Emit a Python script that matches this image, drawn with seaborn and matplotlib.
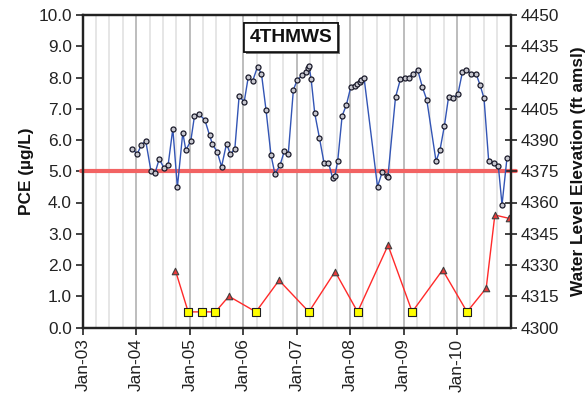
import matplotlib
matplotlib.use("Agg")
import matplotlib.pyplot as plt
import matplotlib.dates as mdates
import matplotlib.patheffects as pe
import numpy as np
import pandas as pd
import seaborn as sns

# Groundwater elevation (ft amsl), right axis
wl_dates = [
    "2003-12-04", "2004-01-07", "2004-02-04", "2004-03-05", "2004-04-09", "2004-05-08",
    "2004-06-05", "2004-07-07", "2004-08-05", "2004-09-06", "2004-10-07", "2004-11-13",
    "2004-12-04", "2005-01-07", "2005-02-01", "2005-03-05", "2005-04-13", "2005-05-15",
    "2005-06-04", "2005-07-06", "2005-08-05", "2005-09-08", "2005-10-05", "2005-11-04",
    "2005-12-03", "2006-01-07", "2006-02-04", "2006-03-05", "2006-04-08", "2006-05-05",
    "2006-06-05", "2006-07-09", "2006-08-05", "2006-09-09", "2006-10-08", "2006-11-04",
    "2006-12-09", "2007-01-05", "2007-02-08", "2007-03-03", "2007-03-17", "2007-03-26",
    "2007-04-09", "2007-05-04", "2007-06-05", "2007-07-07", "2007-08-06", "2007-09-04",
    "2007-09-18", "2007-10-08", "2007-11-07", "2007-12-06", "2008-01-05", "2008-02-01",
    "2008-02-18", "2008-03-05", "2008-03-18", "2008-04-05", "2008-07-06", "2008-08-07",
    "2008-09-06", "2008-09-15", "2008-11-06", "2008-12-10", "2009-01-07", "2009-02-06",
    "2009-03-08", "2009-04-07", "2009-05-09", "2009-06-08", "2009-08-10", "2009-09-06",
    "2009-10-06", "2009-11-04", "2009-12-06", "2010-01-07", "2010-02-06", "2010-03-06",
    "2010-04-05", "2010-05-11", "2010-06-07", "2010-07-04", "2010-08-05", "2010-09-08",
    "2010-10-10", "2010-11-04", "2010-12-08",
]
wl_elev = [
    4385.7, 4383.3, 4387.7, 4389.5, 4375.3, 4374.3,
    4380.9, 4376.6, 4378.1, 4395.4, 4367.3, 4393.5,
    4385.1, 4389.7, 4401.5, 4402.3, 4399.6, 4392.3,
    4387.9, 4384.4, 4377.2, 4388.2, 4383.1, 4385.9,
    4411.0, 4408.4, 4420.4, 4418.2, 4425.2, 4421.7,
    4404.4, 4382.7, 4373.7, 4378.0, 4384.6, 4383.3,
    4414.1, 4418.9, 4421.1, 4422.6, 4424.4, 4425.4,
    4419.4, 4402.8, 4391.0, 4378.8, 4379.1, 4371.6,
    4372.6, 4379.9, 4401.5, 4406.8, 4415.4, 4415.9,
    4416.7, 4418.0, 4418.7, 4419.9, 4367.6, 4374.6,
    4372.6, 4372.2, 4410.5, 4419.3, 4419.6, 4419.9,
    4421.8, 4423.5, 4415.3, 4409.2, 4379.8, 4385.2,
    4396.7, 4410.8, 4410.0, 4412.2, 4422.5, 4423.7,
    4421.8, 4421.7, 4416.4, 4410.0, 4379.8, 4379.1,
    4377.4, 4358.9, 4381.4,
]

# PCE concentration (ug/L), left axis; non-detects reported at 0.5
pce_dates = [
    "2004-09-24", "2004-12-20", "2005-03-25", "2005-06-24", "2005-09-24", "2006-03-28",
    "2006-09-02", "2007-03-25", "2007-09-20", "2008-02-21", "2008-09-16", "2009-02-28",
    "2009-09-24", "2010-03-10", "2010-07-19", "2010-09-16", "2010-12-24",
]
pce_conc = [1.82, 0.5, 0.5, 0.5, 1.0, 0.5, 1.51, 0.5, 1.79, 0.5, 2.63, 0.5,
            1.84, 0.5, 1.26, 3.60, 3.49]
pce_nondetect = [False, True, True, True, False, True, False, True, False, True, False, True,
                 False, True, False, False, False]

mcl = 5.0
year_labels = ["Jan-03", "Jan-04", "Jan-05", "Jan-06", "Jan-07", "Jan-08", "Jan-09", "Jan-10"]

wl = pd.DataFrame({"date": pd.to_datetime(wl_dates), "elev": wl_elev})
pce = pd.DataFrame({"date": pd.to_datetime(pce_dates), "conc": pce_conc, "nd": pce_nondetect})

sns.set_theme(style="white")
plt.rcParams["font.family"] = ["Liberation Sans", "DejaVu Sans"]

fig = plt.figure(figsize=(5.88, 3.94), dpi=100)
ax = fig.add_axes([83 / 588, 1 - 327.5 / 394, 427.5 / 588, 312.5 / 394])

# PCE series
sns.lineplot(data=pce, x="date", y="conc", ax=ax, color="#ff2a2a", lw=1.0, zorder=3)
sns.scatterplot(data=pce[~pce["nd"]], x="date", y="conc", ax=ax, marker="^", s=22,
                color="#e83a3a", edgecolor="#404040", linewidth=0.8, zorder=4)
sns.scatterplot(data=pce[pce["nd"]], x="date", y="conc", ax=ax, marker="s", s=30,
                color="#ffff00", edgecolor="#202020", linewidth=0.8, zorder=4)

# Regulatory limit
ax.axhline(mcl, xmin=-0.004, xmax=1.012, color="#f26363", lw=3, clip_on=False, zorder=2)

ax.set_ylim(0, 10)
ax.set_yticks(np.arange(0, 10.01, 1.0))
ax.set_yticklabels([f"{v:.1f}" for v in np.arange(0, 10.01, 1.0)])
ax.set_xlim(pd.Timestamp("2003-01-01"), pd.Timestamp("2011-01-01"))
ax.set_xticks(pd.to_datetime([f"20{l[-2:]}-01-01" for l in year_labels]))
ax.set_xticklabels(year_labels, rotation=90)
ax.xaxis.set_minor_locator(mdates.MonthLocator(bymonth=[4, 7, 10]))
ax.grid(True, axis="x", which="major", color="#bdbdbd", lw=1.4)
ax.grid(True, axis="x", which="minor", color="#e6e6e6", lw=1.4)
ax.grid(False, axis="y")
ax.set_axisbelow(True)
ax.tick_params(axis="both", which="major", direction="out", length=5, width=1.2,
               color="#222222", labelsize=12.4, pad=3, labelcolor="#222222")
ax.tick_params(axis="x", which="minor", length=0)
ax.tick_params(axis="y", left=True)
ax.tick_params(axis="x", bottom=True)
ax.set_xlabel("")
ax.set_ylabel("PCE (µg/L)", fontsize=12.4, fontweight="bold", labelpad=3, color="#111111")
for sp in ax.spines.values():
    sp.set_color("#222222")
    sp.set_linewidth(1.6)

# Water level series on the secondary axis
ax2 = ax.twinx()
sns.lineplot(data=wl, x="date", y="elev", ax=ax2, color="#3355b5", lw=1.0,
             marker="o", markersize=3.6, markerfacecolor="#c8c8d0",
             markeredgecolor="#1a1a2a", markeredgewidth=0.9, zorder=5)
ax2.set_ylim(4300, 4450)
ax2.set_yticks(np.arange(4300, 4451, 15))
ax2.tick_params(axis="y", direction="inout", length=9, width=1.2, color="#222222",
                labelsize=12.4, pad=3, labelcolor="#222222", right=True)
ax2.set_ylabel("Water Level Elevation (ft amsl)", fontsize=12.4, fontweight="bold",
               labelpad=8, color="#111111")
ax2.set_xlabel("")
ax2.grid(False)
for sp in ax2.spines.values():
    sp.set_color("#222222")
    sp.set_linewidth(1.6)

# Well name box
ax.text(0.487, 0.928, "4THMWS", transform=ax.transAxes, ha="center", va="center",
        fontsize=13.8, fontweight="bold", color="#111111", zorder=10,
        bbox=dict(boxstyle="square,pad=0.3", fc="white", ec="#111111", lw=1.2,
                  path_effects=[pe.withSimplePatchShadow(offset=(1.5, -1.5),
                                                         shadow_rgbFace="#555555", alpha=0.8),
                                pe.Normal()]))

fig.savefig("out.png", dpi=100)
